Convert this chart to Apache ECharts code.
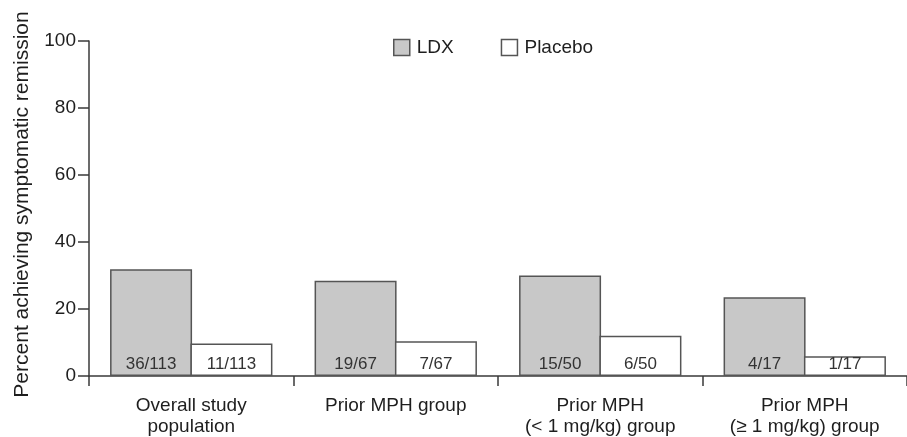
<!DOCTYPE html>
<html>
<head>
<meta charset="utf-8">
<script src="https://cdn.jsdelivr.net/npm/echarts@6/dist/echarts.min.js"></script>
<style>
html,body{margin:0;padding:0;background:#fff;}
#chart{width:907px;height:437px;}
</style>
</head>
<body>
<div id="chart"></div>
<script>
const categories = ["Overall study\npopulation", "Prior MPH group", "Prior MPH\n(< 1 mg/kg) group", "Prior MPH\n(\u2265 1 mg/kg) group"];
const ldxValues = [31.9, 28.4, 30.0, 23.5];
const placeboValues = [9.7, 10.4, 12.0, 5.9];
const ldxLabels = ["36/113", "19/67", "15/50", "4/17"];
const placeboLabels = ["11/113", "7/67", "6/50", "1/17"];
const yTicks = [0, 20, 40, 60, 80, 100];

const FONT = "'Liberation Sans', Arial, sans-serif";
const INK = '#1e1e1e';
const LINE = '#3a3a3a';

const chart = echarts.init(document.getElementById('chart'), null, {renderer: 'canvas'});
chart.setOption({
  animation: false,
  textStyle: {fontFamily: FONT, color: INK},
  legend: {
    left: 393, top: 38, padding: 0,
    itemWidth: 16, itemHeight: 16, itemGap: 47,
    textStyle: {fontFamily: FONT, fontSize: 19, color: INK, padding: [0,0,0,2]},
    data: [
      {name: 'LDX', icon: 'rect', itemStyle: {color: '#c8c8c8', borderColor: '#555', borderWidth: 1.5}},
      {name: 'Placebo', icon: 'rect', itemStyle: {color: '#fff', borderColor: '#555', borderWidth: 1.5}}
    ]
  },
  grid: {left: 89, top: 41, bottom: 59, width: 831, containLabel: false},
  xAxis: {
    type: 'category',
    data: categories,
    boundaryGap: true,
    axisLine: {lineStyle: {color: LINE, width: 1.5}},
    axisTick: {show: true, length: 10, inside: false, lineStyle: {color: LINE, width: 1.5}},
    axisLabel: {fontFamily: FONT, fontSize: 19, color: INK, margin: 19, lineHeight: 21, interval: 0}
  },
  yAxis: {
    type: 'value',
    min: yTicks[0], max: yTicks[yTicks.length - 1], interval: 20,
    name: 'Percent achieving symptomatic remission',
    nameLocation: 'middle', nameGap: 56,
    nameTextStyle: {fontFamily: FONT, fontSize: 21, color: INK, padding: [0, 0, 0, 8]},
    axisLine: {show: true, onZero: false, lineStyle: {color: LINE, width: 1.5}},
    axisTick: {show: true, length: 11, lineStyle: {color: LINE, width: 1.5}},
    axisLabel: {fontFamily: FONT, fontSize: 19, color: INK, margin: 13},
    splitLine: {show: false}
  },
  series: [
    {
      name: 'LDX', type: 'bar', data: ldxValues, barWidth: 82, barGap: '-2%',
      itemStyle: {color: '#c8c8c8', borderColor: '#555', borderWidth: 1.5},
      label: {show: true, position: 'insideBottom', distance: 3, fontFamily: FONT, fontSize: 17, color: '#333',
        formatter: p => ldxLabels[p.dataIndex]}
    },
    {
      name: 'Placebo', type: 'bar', data: placeboValues, barWidth: 82, barGap: '-2%',
      itemStyle: {color: '#ffffff', borderColor: '#555', borderWidth: 1.5},
      label: {show: true, position: 'insideBottom', distance: 3, fontFamily: FONT, fontSize: 17, color: '#333',
        formatter: p => placeboLabels[p.dataIndex]}
    }
  ]
});
</script>
</body>
</html>
